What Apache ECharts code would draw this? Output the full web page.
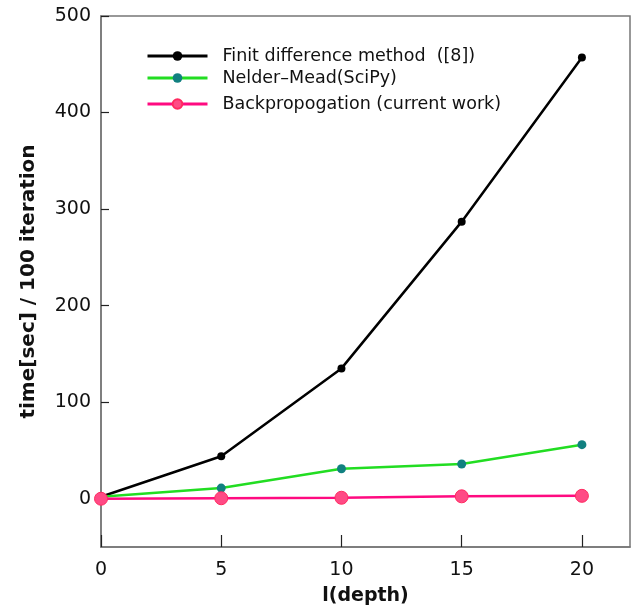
<!DOCTYPE html>
<html><head><meta charset="utf-8">
<script src="https://cdn.jsdelivr.net/npm/echarts@6/dist/echarts.min.js"></script>
<style>html,body{margin:0;padding:0;background:#fff}#c{width:632px;height:612px}</style>
</head><body><div id="c"></div>
<script>
const depth = [0, 5, 10, 15, 20];
const finiteDiff = [2, 44, 135, 287, 457];
const nelderMead = [2, 11, 31, 36, 56];
const backprop = [0, 0.5, 1, 2.5, 3];
const xTicks = [0, 5, 10, 15, 20];
const yTicks = [0, 100, 200, 300, 400, 500];
const seriesNames = ['Finit difference method  ([8])', 'Nelder\u2013Mead(SciPy)', 'Backpropogation (current work)'];
const xTitle = 'l(depth)';
const yTitle = 'time[sec] / 100 iteration';

const font = 'DejaVu Sans';
const chart = echarts.init(document.getElementById('c'));
function pairs(v){ return depth.map((d,i)=>[d, v[i]]); }
function legend(name, top){
  return {data:[name], left:141, top:top, itemWidth:60, itemHeight:12, orient:'vertical',
    lineStyle:{width:3},
    textStyle:{fontFamily:font, fontSize:17.5, color:'#111', padding:[0,0,0,10]}, selectedMode:false};
}
chart.setOption({
  animation:false,
  grid:{left:101, right:2, top:16, bottom:65, show:true, borderColor:'#777', borderWidth:1.5},
  legend:[legend(seriesNames[0], 42), legend(seriesNames[1], 64), legend(seriesNames[2], 90)],
  xAxis:{type:'value', min:0, max:22,
    axisLine:{onZero:false, lineStyle:{color:'#777', width:1.5}},
    axisTick:{inside:true, length:12, customValues:xTicks, lineStyle:{color:'#222', width:1.2}},
    splitLine:{show:false},
    axisLabel:{fontFamily:font, fontSize:19, color:'#111', margin:14, customValues:xTicks},
    name:xTitle, nameLocation:'middle', nameGap:40,
    nameTextStyle:{fontFamily:font, fontSize:19, fontWeight:'bold', color:'#111'}},
  yAxis:{type:'value', min:-50, max:500,
    axisLine:{show:true, onZero:false, lineStyle:{color:'#777', width:1.5}},
    axisTick:{show:true, inside:true, length:8, customValues:yTicks, lineStyle:{color:'#222', width:1.2}},
    splitLine:{show:false},
    axisLabel:{fontFamily:font, fontSize:19, color:'#111', margin:10, customValues:yTicks},
    name:yTitle, nameLocation:'middle', nameGap:62,
    nameTextStyle:{fontFamily:font, fontSize:20, fontWeight:'bold', color:'#111'}},
  series:[
    {name:seriesNames[0], type:'line', data:pairs(finiteDiff), symbol:'circle', symbolSize:8,
      lineStyle:{color:'#000', width:2.5}, itemStyle:{color:'#000'}, z:3},
    {name:seriesNames[1], type:'line', data:pairs(nelderMead), symbol:'circle', symbolSize:9,
      lineStyle:{color:'#22dd22', width:2.5}, itemStyle:{color:'#118080'}, z:4},
    {name:seriesNames[2], type:'line', data:pairs(backprop), symbol:'circle', symbolSize:13,
      lineStyle:{color:'#ff0a80', width:2.5}, itemStyle:{color:'#ff4a85', borderColor:'#ff2a60', borderWidth:1}, z:5}
  ]
});
</script></body></html>
